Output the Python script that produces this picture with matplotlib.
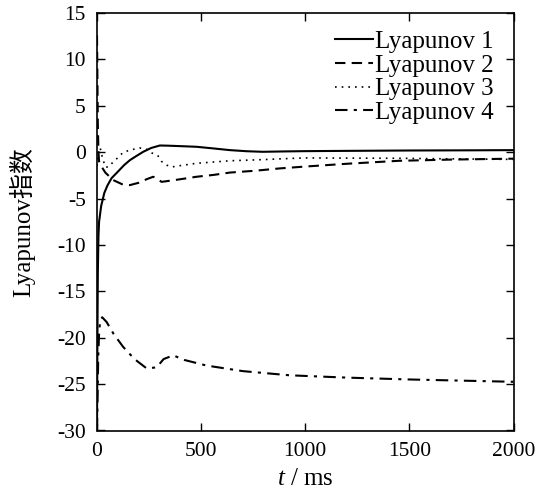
import matplotlib
matplotlib.use("Agg")
import matplotlib.pyplot as plt
import numpy as np

plt.rcParams['font.family'] = ['Liberation Serif', 'Noto Sans CJK SC']
plt.rcParams['mathtext.fontset'] = 'custom'
plt.rcParams['mathtext.it'] = 'Liberation Serif:italic'
plt.rcParams['mathtext.rm'] = 'Liberation Serif'
plt.rcParams['axes.unicode_minus'] = False

# values (t in ms)
t1 = [0, 2, 4, 7, 10, 20, 35, 50, 70, 96, 130, 158, 190, 222, 260, 302, 340, 400, 478,
      560, 638, 720, 796, 900, 1000, 1200, 1500, 1800, 2000]
l1 = [-30, -20, -13, -9, -7.5, -5.8, -4.4, -3.6, -2.8, -2.2, -1.4, -0.86, -0.4, 0.04, 0.45, 0.72,
      0.7, 0.65, 0.58, 0.4, 0.22, 0.1, 0.04, 0.08, 0.11, 0.14, 0.18, 0.2, 0.22]

t2 = [0, 2, 4, 7, 10, 20, 40, 77, 120, 158, 200, 240, 270, 290, 310, 360, 420, 478, 560,
      638, 760, 878, 1000, 1200, 1450, 1700, 2000]
l2 = [12.6, 8, 3, 0, -1.0, -1.5, -2.2, -3.0, -3.45, -3.55, -3.3, -2.9, -2.65, -2.9, -3.2, -3.05,
      -2.85, -2.65, -2.45, -2.2, -2.0, -1.75, -1.55, -1.25, -0.93, -0.8, -0.7]

t3 = [0, 5, 10, 15, 25, 40, 55, 80, 105, 126, 173, 206, 240, 262, 293, 310, 335, 358, 400,
      478, 638, 800, 925, 1000, 1200, 1450, 1700, 2000]
l3 = [-1.5, -0.4, 0.3, 0.5, -0.5, -1.6, -1.6, -1.0, -0.5, 0.0, 0.3, 0.45, 0.3, -0.07, -0.4,
      -1.0, -1.4, -1.6, -1.45, -1.2, -0.93, -0.8, -0.68, -0.62, -0.64, -0.66, -0.72, -0.78]

t4 = [0, 3, 6, 10, 15, 25, 46, 80, 126, 180, 238, 286, 320, 366, 420, 526, 700, 925, 1200,
      1500, 1800, 2000]
l4 = [-30, -26, -22, -19.5, -18.2, -17.8, -18.3, -19.6, -21.0, -22.3, -23.3, -23.2, -22.3, -21.9,
      -22.4, -23.0, -23.6, -24.05, -24.3, -24.5, -24.65, -24.75]

fig = plt.figure(figsize=(5.36, 4.90), dpi=100)
ax = fig.add_axes([97/536, 1 - 430.5/490, (513.5 - 97)/536, (430.5 - 13)/490])

ax.plot(t1, l1, color='k', lw=1.5, linestyle='-', label='Lyapunov 1')
ax.plot(t2, l2, color='k', lw=1.5, linestyle=(0, (5, 3)), label='Lyapunov 2')
ax.plot(t3, l3, color='k', lw=1.2, linestyle=(0, (1, 3)), label='Lyapunov 3')
ax.plot(t4, l4, color='k', lw=1.5, linestyle=(0, (6, 3, 1.5, 3)), label='Lyapunov 4')

ax.set_xlim(0, 2000)
ax.set_ylim(-30, 15)
ax.set_xticks([0, 500, 1000, 1500, 2000])
ax.set_yticks(np.arange(-30, 16, 5))
ax.tick_params(direction='in', top=True, right=True, length=6, width=1,
               labelsize=15.5, pad=8)
for s in ax.spines.values():
    s.set_linewidth(1.2)

ax.set_xlabel('$t$ / ms', fontsize=18, labelpad=5)
ax.set_ylabel('Lyapunov指数', fontsize=18, labelpad=16)

ax.legend(loc='upper right', frameon=False, fontsize=18, handlelength=1.5,
          handletextpad=0.1, labelspacing=0.05, borderaxespad=0.3,
          bbox_to_anchor=(0.995, 1.0))

fig.savefig('out.png', dpi=100)
